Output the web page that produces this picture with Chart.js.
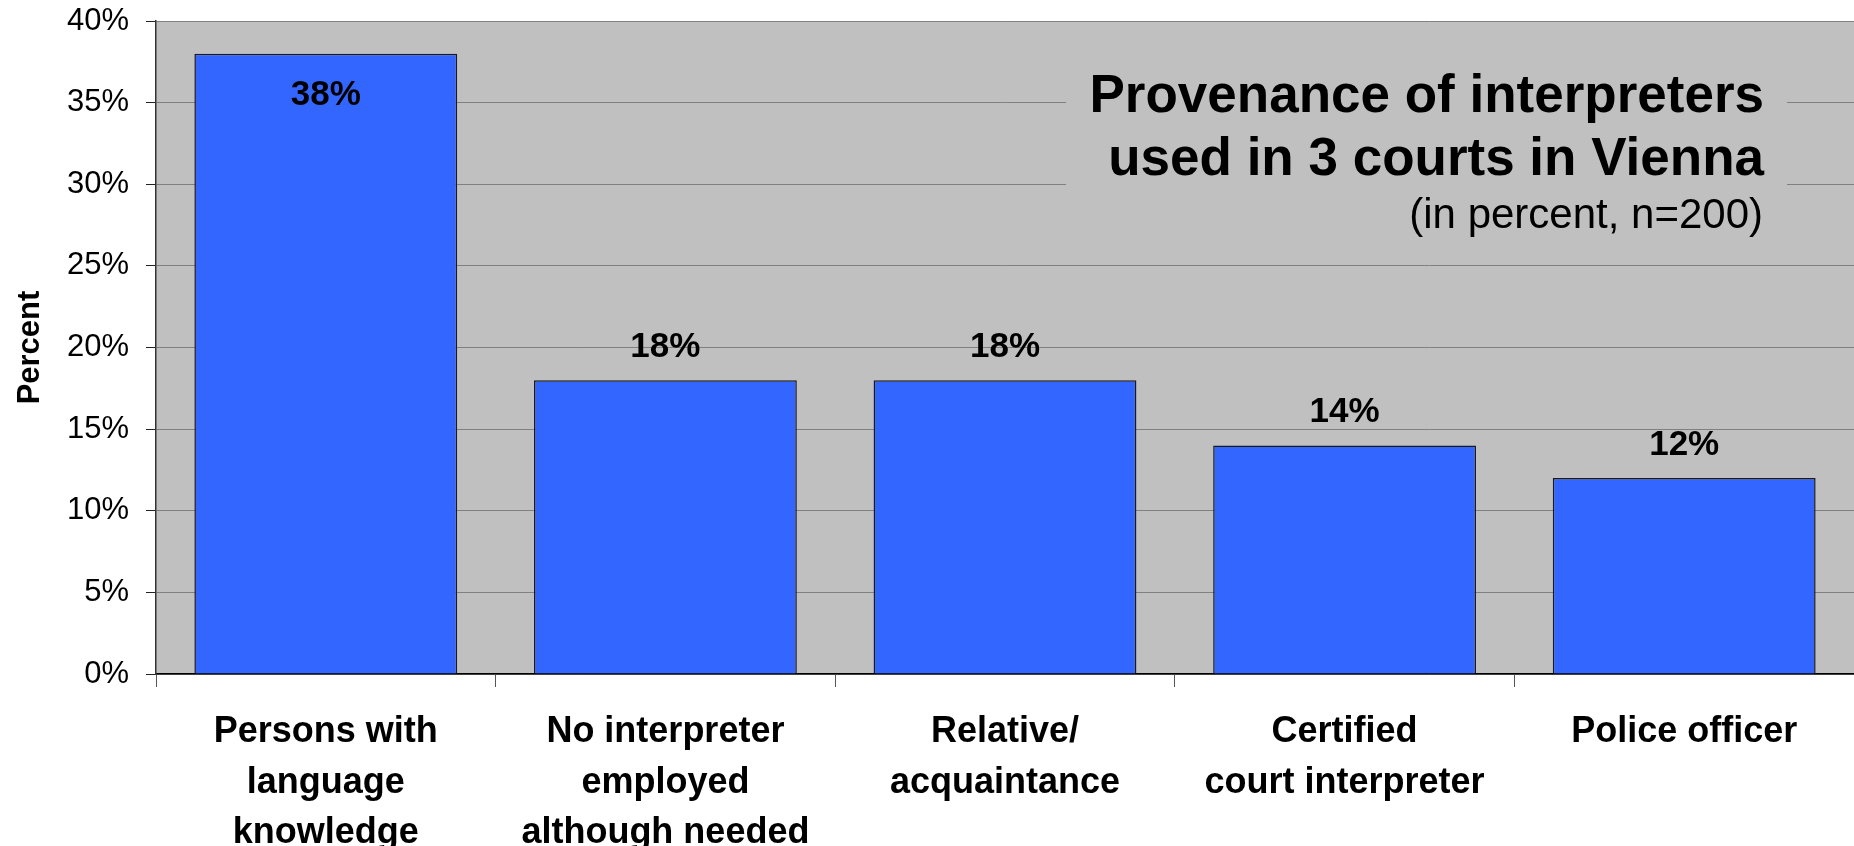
<!DOCTYPE html>
<html>
<head>
<meta charset="utf-8">
<script src="https://cdn.jsdelivr.net/npm/chart.js@4.4.1/dist/chart.umd.min.js"></script>
<style>
  html, body { margin: 0; padding: 0; background: #ffffff; }
  #wrap { width: 1854px; height: 846px; position: relative; }
</style>
</head>
<body>
<div id="wrap"><canvas id="chart"></canvas></div>
<script>
// Interpreter provenance, share of cases in percent
const categories = [
  ["Persons with", "language", "knowledge"],
  ["No interpreter", "employed", "although needed"],
  ["Relative/", "acquaintance"],
  ["Certified", "court interpreter"],
  ["Police officer"]
];
const shares = [38, 18, 18, 14, 12];
const yTicks = [0, 5, 10, 15, 20, 25, 30, 35, 40];
const titleLines = ["Provenance of interpreters", "used in 3 courts in Vienna"];
const subtitleLine = "(in percent, n=200)";
const yAxisTitle = "Percent";

const FONT = '"Liberation Sans", Arial, Helvetica, sans-serif';
const PLOT_BG = '#c0c0c0';

// Grey plot background
const plotBackground = {
  id: 'plotBackground',
  beforeDraw(chart) {
    const { ctx, chartArea: a } = chart;
    ctx.save();
    ctx.fillStyle = PLOT_BG;
    ctx.fillRect(a.left, a.top, a.right - a.left, a.bottom - a.top);
    ctx.restore();
  }
};

// Title block sitting inside the plot, masking the gridlines behind it
const innerTitle = {
  id: 'innerTitle',
  beforeDatasetsDraw(chart) {
    const { ctx } = chart;
    ctx.save();
    ctx.fillStyle = PLOT_BG;
    ctx.fillRect(1066, 32, 721, 218);
    ctx.fillStyle = '#000';
    ctx.textAlign = 'right';
    ctx.textBaseline = 'alphabetic';
    ctx.font = 'bold 53px ' + FONT;
    ctx.fillText(titleLines[0], 1764, 112);
    ctx.fillText(titleLines[1], 1764, 175);
    ctx.font = '42px ' + FONT;
    ctx.fillText(subtitleLine, 1763, 228);
    ctx.restore();
  }
};

// Value labels above each bar (inside when there is no room above)
const valueLabels = {
  id: 'valueLabels',
  afterDatasetsDraw(chart) {
    const { ctx, chartArea: a } = chart;
    const meta = chart.getDatasetMeta(0);
    ctx.save();
    ctx.font = 'bold 35px ' + FONT;
    ctx.fillStyle = '#000';
    ctx.textAlign = 'center';
    ctx.textBaseline = 'alphabetic';
    meta.data.forEach((bar, i) => {
      const v = chart.data.datasets[0].data[i];
      let y = bar.y - 23;
      if (y - 26 < a.top) y = bar.y + 51;
      ctx.fillText(v + '%', bar.x, y);
    });
    ctx.restore();
  }
};

new Chart(document.getElementById('chart'), {
  type: 'bar',
  data: {
    labels: categories,
    datasets: [{
      data: shares,
      backgroundColor: '#3366ff',
      borderColor: '#1a1a1a',
      borderWidth: 1.5,
      categoryPercentage: 1,
      barPercentage: 0.774
    }]
  },
  options: {
    responsive: true,
    maintainAspectRatio: false,
    animation: false,
    events: [],
    layout: { padding: { top: 21, left: 0, right: 0, bottom: 0 } },
    plugins: {
      legend: { display: false },
      tooltip: { enabled: false },
      title: { display: false }
    },
    scales: {
      x: {
        grid: {
          display: true,
          drawOnChartArea: false,
          drawTicks: true,
          tickLength: 13,
          color: '#555',
          tickColor: '#555',
          offset: true
        },
        border: { display: true, color: '#000', width: 1.5 },
        ticks: {
          color: '#000',
          padding: 20,
          maxRotation: 0,
          autoSkip: false,
          font: { family: FONT, size: 36, weight: 'bold', lineHeight: 1.4 }
        },
        afterFit(scale) { scale.height = 172; }
      },
      y: {
        min: 0,
        max: 40,
        afterBuildTicks(scale) { scale.ticks = yTicks.map(v => ({ value: v })); },
        grid: {
          color: '#808080',
          lineWidth: 1,
          tickLength: 10,
          tickColor: '#222'
        },
        border: { display: true, color: '#333', width: 1.5 },
        ticks: {
          color: '#000',
          padding: 17,
          font: { family: FONT, size: 31 },
          callback: (v) => v + '%'
        },
        title: {
          display: true,
          text: yAxisTitle,
          color: '#000',
          font: { family: FONT, size: 31, weight: 'bold' },
          padding: { top: 12, bottom: 0 }
        },
        afterFit(scale) {
          scale.width = 156;
          scale.paddingTop = 0;
          scale.paddingBottom = 0;
        }
      }
    }
  },
  plugins: [plotBackground, innerTitle, valueLabels]
});
</script>
</body>
</html>
